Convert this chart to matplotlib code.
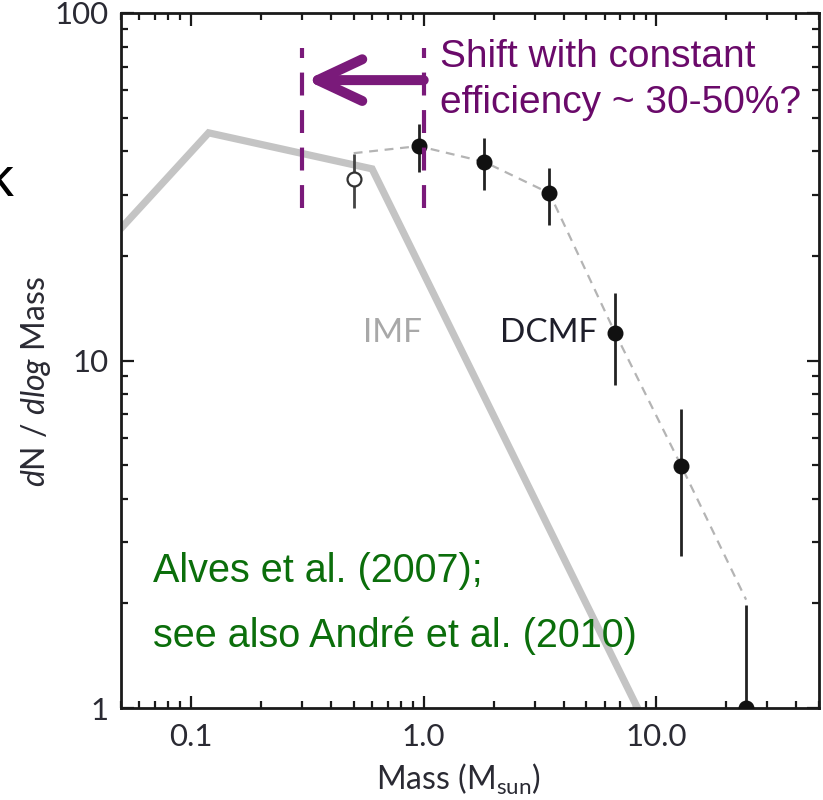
import numpy as np
import matplotlib.pyplot as plt
from matplotlib.patches import FancyArrowPatch, ArrowStyle
from matplotlib.ticker import LogLocator, FixedLocator, NullFormatter

plt.rcParams['font.family'] = ['Lato', 'DejaVu Sans']
plt.rcParams['mathtext.fontset'] = 'custom'
plt.rcParams['mathtext.rm'] = 'Lato'
plt.rcParams['mathtext.it'] = 'Lato:italic'

# dense core mass function (Alves et al. 2007)
core_mass = [0.95, 1.82, 3.47, 6.65, 12.8, 24.3]
core_dn = [41.4, 37.3, 30.3, 12.0, 4.97, 1.0]
core_lo = [34.9, 31.0, 24.5, 8.5, 2.74, 1.0]
core_hi = [48.0, 43.6, 35.8, 15.6, 7.25, 1.98]

# incomplete lowest-mass bin (open symbol)
open_mass = [0.5]
open_dn = [33.3]
open_lo = [27.5]
open_hi = [39.3]

# dashed DCMF curve
dcmf_mass = [0.5, 0.95, 1.82, 3.47, 6.65, 12.8, 24.3]
dcmf_dn = [39.5, 41.4, 37.3, 30.3, 12.0, 4.97, 2.05]

# stellar IMF (broken power law)
imf_mass = [0.05, 0.119, 0.60, 8.3]
imf_dn = [24.0, 45.2, 35.6, 1.0]

# shift window and arrow
shift_lo, shift_hi = 0.3, 1.0
shift_ymin, shift_ymax = 27.5, 79.3
arrow_y = 64.1

purple = '#7a1a7a'
green = '#0b6e0b'
arial = ['Liberation Sans', 'DejaVu Sans']

fig = plt.figure(figsize=(8.23, 8.0), dpi=100)
ax = fig.add_axes([121/823, 1 - 708/800, 698/823, 695/800])
ax.set_xscale('log')
ax.set_yscale('log')
ax.set_xlim(0.05, 50)
ax.set_ylim(1, 100)

ax.plot(imf_mass, imf_dn, color='#c4c4c4', lw=5.2, solid_capstyle='projecting',
        solid_joinstyle='miter', zorder=2)

ax.plot(dcmf_mass, dcmf_dn, color='#b4b4b4', lw=1.6, ls=(0, (4, 3)), zorder=3)

yerr = [np.array(core_dn) - np.array(core_lo), np.array(core_hi) - np.array(core_dn)]
ax.errorbar(core_mass, core_dn, yerr=yerr, fmt='o', color='#111111', ms=10.5,
            ecolor='#222222', elinewidth=2.0, capsize=0, zorder=4)
yerr_o = [np.array(open_dn) - np.array(open_lo), np.array(open_hi) - np.array(open_dn)]
ax.errorbar(open_mass, open_dn, yerr=yerr_o, fmt='o', mfc='white', mec='#333333',
            mew=1.6, ms=10, ecolor='#444444', elinewidth=2.0, capsize=0, zorder=4)

for xv in (shift_lo, shift_hi):
    ax.plot([xv, xv], [shift_ymin, shift_ymax], color=purple, lw=3.0,
            ls=(0, (5.5, 3.5)), zorder=5)

arr = FancyArrowPatch((shift_hi, arrow_y), (shift_lo * 1.04, arrow_y),
                      arrowstyle=ArrowStyle('->', head_length=32, head_width=15),
                      color=purple, lw=7.2, capstyle='round', joinstyle='round',
                      mutation_scale=1, shrinkA=0, shrinkB=0, zorder=6)
ax.add_patch(arr)

ax.text(1.17, 70.0, 'Shift with constant', color='#6a0a6a', fontsize=28,
        family=arial, va='baseline', ha='left', zorder=7)
ax.text(1.17, 51.5, 'efficiency ~ 30-50%?', color='#6a0a6a', fontsize=28,
        family=arial, va='baseline', ha='left', zorder=7)

ax.text(0.0686, 2.31, 'Alves et al. (2007);', color=green, fontsize=28.5,
        family=arial, va='baseline', ha='left', zorder=7)
ax.text(0.0686, 1.50, 'see also André et al. (2010)', color=green, fontsize=28.5,
        family=arial, va='baseline', ha='left', zorder=7)

ax.text(0.547, 12.0, 'IMF', color='#a8a8a8', fontsize=24, ha='left', va='center')
ax.text(2.12, 12.0, 'DCMF', color='#1e1e2a', fontsize=24, ha='left', va='center')

# ticks
ax.xaxis.set_major_locator(FixedLocator([0.1, 1.0, 10.0]))
ax.set_xticklabels(['0.1', '1.0', '10.0'])
ax.xaxis.set_minor_locator(LogLocator(base=10, subs=np.arange(2, 10)))
ax.xaxis.set_minor_formatter(NullFormatter())
ax.yaxis.set_major_locator(FixedLocator([1, 10, 100]))
ax.set_yticklabels(['1', '10', '100'])
ax.yaxis.set_minor_locator(LogLocator(base=10, subs=np.arange(2, 10)))
ax.yaxis.set_minor_formatter(NullFormatter())
ax.tick_params(which='both', direction='in', top=True, right=True, color='#1a1a1a',
               width=1.6, labelsize=22.5, labelcolor='#2a2a33')
ax.tick_params(which='major', length=9)
ax.tick_params(which='minor', length=5)
ax.tick_params(axis='x', which='major', pad=11)
ax.tick_params(axis='y', which='major', pad=9)
for sp in ax.spines.values():
    sp.set_linewidth(2.0)
    sp.set_color('#1a1a1a')

ax.set_xlabel(r'Mass (M$_{\mathrm{sun}}$)', fontsize=23, color='#2a2a33')
ax.xaxis.set_label_coords(0.484, -0.077)
ax.set_ylabel(r'$d$N / $dlog$ Mass', fontsize=23, color='#2a2a33')
ax.yaxis.set_label_coords(-0.098, 0.469)

fig.text(13/823, 1 - 196/800, 'k', fontsize=40, color='black', ha='right',
         va='baseline', family=arial)

fig.savefig('out.png', dpi=100)
